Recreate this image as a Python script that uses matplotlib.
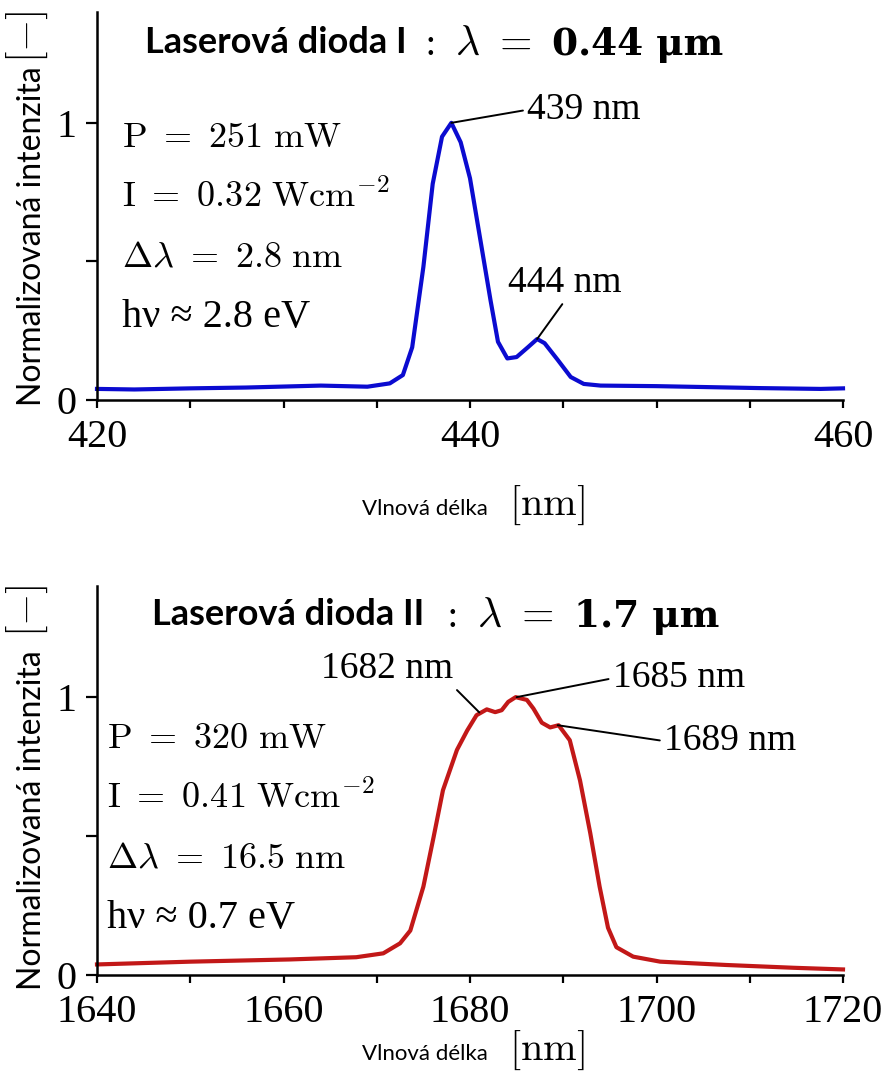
import matplotlib
matplotlib.use("Agg")
import matplotlib.pyplot as plt
from matplotlib.ticker import MultipleLocator

plt.rcParams['mathtext.fontset'] = 'cm'

# blue diode spectrum (nm, normalised)
blue_nm = [420, 422, 425, 428, 432, 434.5, 435.7, 436.4, 436.9, 437.5, 438.0,
           438.5, 439.0, 439.5, 440.0, 440.5, 441.1, 441.5, 442.0, 442.5,
           443.1, 443.6, 444.0, 444.7, 445.4, 446.1, 447, 450, 455.5, 458.8, 460]
blue_val = [0.04, 0.038, 0.042, 0.045, 0.052, 0.048, 0.06, 0.09, 0.19, 0.48, 0.78,
            0.95, 1.0, 0.93, 0.80, 0.60, 0.36, 0.21, 0.15, 0.155,
            0.19, 0.22, 0.205, 0.145, 0.083, 0.058, 0.052, 0.05, 0.043, 0.04, 0.042]

# infrared diode spectrum
red_nm = [1640, 1650, 1660.7, 1667.8, 1670.7, 1672.5, 1673.6, 1675.0, 1676.1,
          1677.1, 1678.6, 1679.7, 1680.7, 1681.8, 1682.7, 1683.4, 1684.1, 1684.9,
          1686.1, 1686.8, 1687.7, 1688.6, 1689.5, 1690.7, 1691.8, 1692.9, 1693.9,
          1694.8, 1695.7, 1697.5, 1700.4, 1707.5, 1714.7, 1720]
red_val = [0.038, 0.048, 0.056, 0.064, 0.078, 0.114, 0.16, 0.318, 0.497,
           0.665, 0.81, 0.88, 0.935, 0.956, 0.946, 0.953, 0.983, 1.0,
           0.99, 0.959, 0.908, 0.891, 0.899, 0.845, 0.70, 0.51, 0.318,
           0.17, 0.10, 0.066, 0.048, 0.036, 0.026, 0.02]

titles = ['Laserová dioda I', 'Laserová dioda II']
title_wl = ['0.44 μm', '1.7 μm']
params_top = [r'$\mathrm{P}\ =\ 251\ \mathrm{mW}$', r'$\mathrm{I}\ =\ 0.32\ \mathrm{Wcm^{-2}}$',
              r'$\Delta\lambda\ =\ 2.8\ \mathrm{nm}$', 'hν ≈ 2.8 eV']
params_bot = [r'$\mathrm{P}\ =\ 320\ \mathrm{mW}$', r'$\mathrm{I}\ =\ 0.41\ \mathrm{Wcm^{-2}}$',
              r'$\Delta\lambda\ =\ 16.5\ \mathrm{nm}$', 'hν ≈ 0.7 eV']

W, H = 887, 1074
SERIF = 'Liberation Serif'
SANS = 'Lato'

fig = plt.figure(figsize=(W / 100, H / 100), dpi=100)
ax1 = fig.add_axes([97 / W, (H - 400) / H, 746 / W, 388 / H])
ax2 = fig.add_axes([97 / W, (H - 975) / H, 746 / W, 389 / H])


def style(ax, xlim, major, minor):
    ax.set_xlim(*xlim)
    ax.set_ylim(0, 1.4)
    for s in ['top', 'right']:
        ax.spines[s].set_visible(False)
    for s in ['left', 'bottom']:
        ax.spines[s].set_linewidth(1.8)
    ax.xaxis.set_major_locator(MultipleLocator(major))
    ax.xaxis.set_minor_locator(MultipleLocator(minor))
    ax.set_yticks([0, 0.5, 1])
    ax.set_yticklabels(['0', '', '1'])
    ax.tick_params(axis='x', which='both', direction='out', length=6, width=1.6, pad=8)
    ax.tick_params(axis='y', direction='out', length=8, width=1.6, pad=7)
    for lab in ax.get_xticklabels() + ax.get_yticklabels():
        lab.set_fontfamily(SERIF)
        lab.set_fontsize(29)


style(ax1, (420, 460), 20, 5)
style(ax2, (1640, 1720), 20, 10)

ax1.plot(blue_nm, blue_val, color='#0b0bd0', lw=3, clip_on=False)
ax2.plot(red_nm, red_val, color='#c21818', lw=3, clip_on=False)


def fx(px):
    return px / W


def fy(py):
    return 1 - py / H


# titles: name, then ": lambda = value"
for t, wl, xt, xm, yb in zip(titles, title_wl, [145, 152], [417, 439], [53, 625]):
    fig.text(fx(xt), fy(yb), t, family=SANS, weight='bold', fontsize=26, va='baseline')
    fig.text(fx(xm), fy(yb + 2), r'$:\ \lambda\ =$', fontsize=30, va='baseline')
    fig.text(fx(xm + 135), fy(yb + 2), wl, family='DejaVu Serif', weight='bold',
             fontsize=27, va='baseline')

# parameter blocks
for lines, x0, y0 in [(params_top, 122, 147), (params_bot, 107, 748)]:
    for i, s in enumerate(lines):
        kw = dict(fontsize=26, va='baseline')
        if not s.startswith('$'):
            kw = dict(fontsize=29, va='baseline', family=SERIF)
        fig.text(fx(x0), fy(y0 + 60 * i), s, **kw)

# axis labels
for yc, ytop in [(236, 37), (820, 611)]:
    fig.text(fx(32), fy(yc), 'Normalizovaná intenzita', family=SANS, fontsize=23,
             rotation=90, ha='center', va='center')
    fig.text(fx(27), fy(ytop), r'$[-]$', fontsize=30, rotation=90, ha='center', va='center')
for yb in [515, 1060]:
    fig.text(fx(425), fy(yb), 'Vlnová délka', family=SANS, fontsize=16, ha='center', va='baseline')
    fig.text(fx(547), fy(yb), r'$[\mathrm{nm}]$', fontsize=29, ha='center', va='baseline')

# peak labels
line = dict(arrowstyle='-', lw=1.4, color='black', shrinkA=1, shrinkB=0)
akw = dict(family=SERIF, fontsize=27)
ax1.annotate('439 nm', xy=(439.0, 1.0), xytext=(443.06, 1.047), ha='left', va='center',
             arrowprops=dict(line, relpos=(0, 0.5)), **akw)
ax1.annotate('444 nm', xy=(443.6, 0.22), xytext=(445.1, 0.36), ha='center', va='bottom',
             arrowprops=dict(line, relpos=(0.5, 0)), **akw)
ax2.annotate('1682 nm', xy=(1681.0, 0.945), xytext=(1678.2, 1.039), ha='right', va='bottom',
             arrowprops=dict(line, relpos=(1, 0)), **akw)
ax2.annotate('1685 nm', xy=(1685.0, 1.0), xytext=(1695.3, 1.068), ha='left', va='center',
             arrowprops=dict(line, relpos=(0, 0.5)), **akw)
ax2.annotate('1689 nm', xy=(1689.4, 0.899), xytext=(1700.8, 0.842), ha='left', va='center',
             arrowprops=dict(line, relpos=(0, 0.5)), **akw)

fig.savefig('out.png', dpi=100)
